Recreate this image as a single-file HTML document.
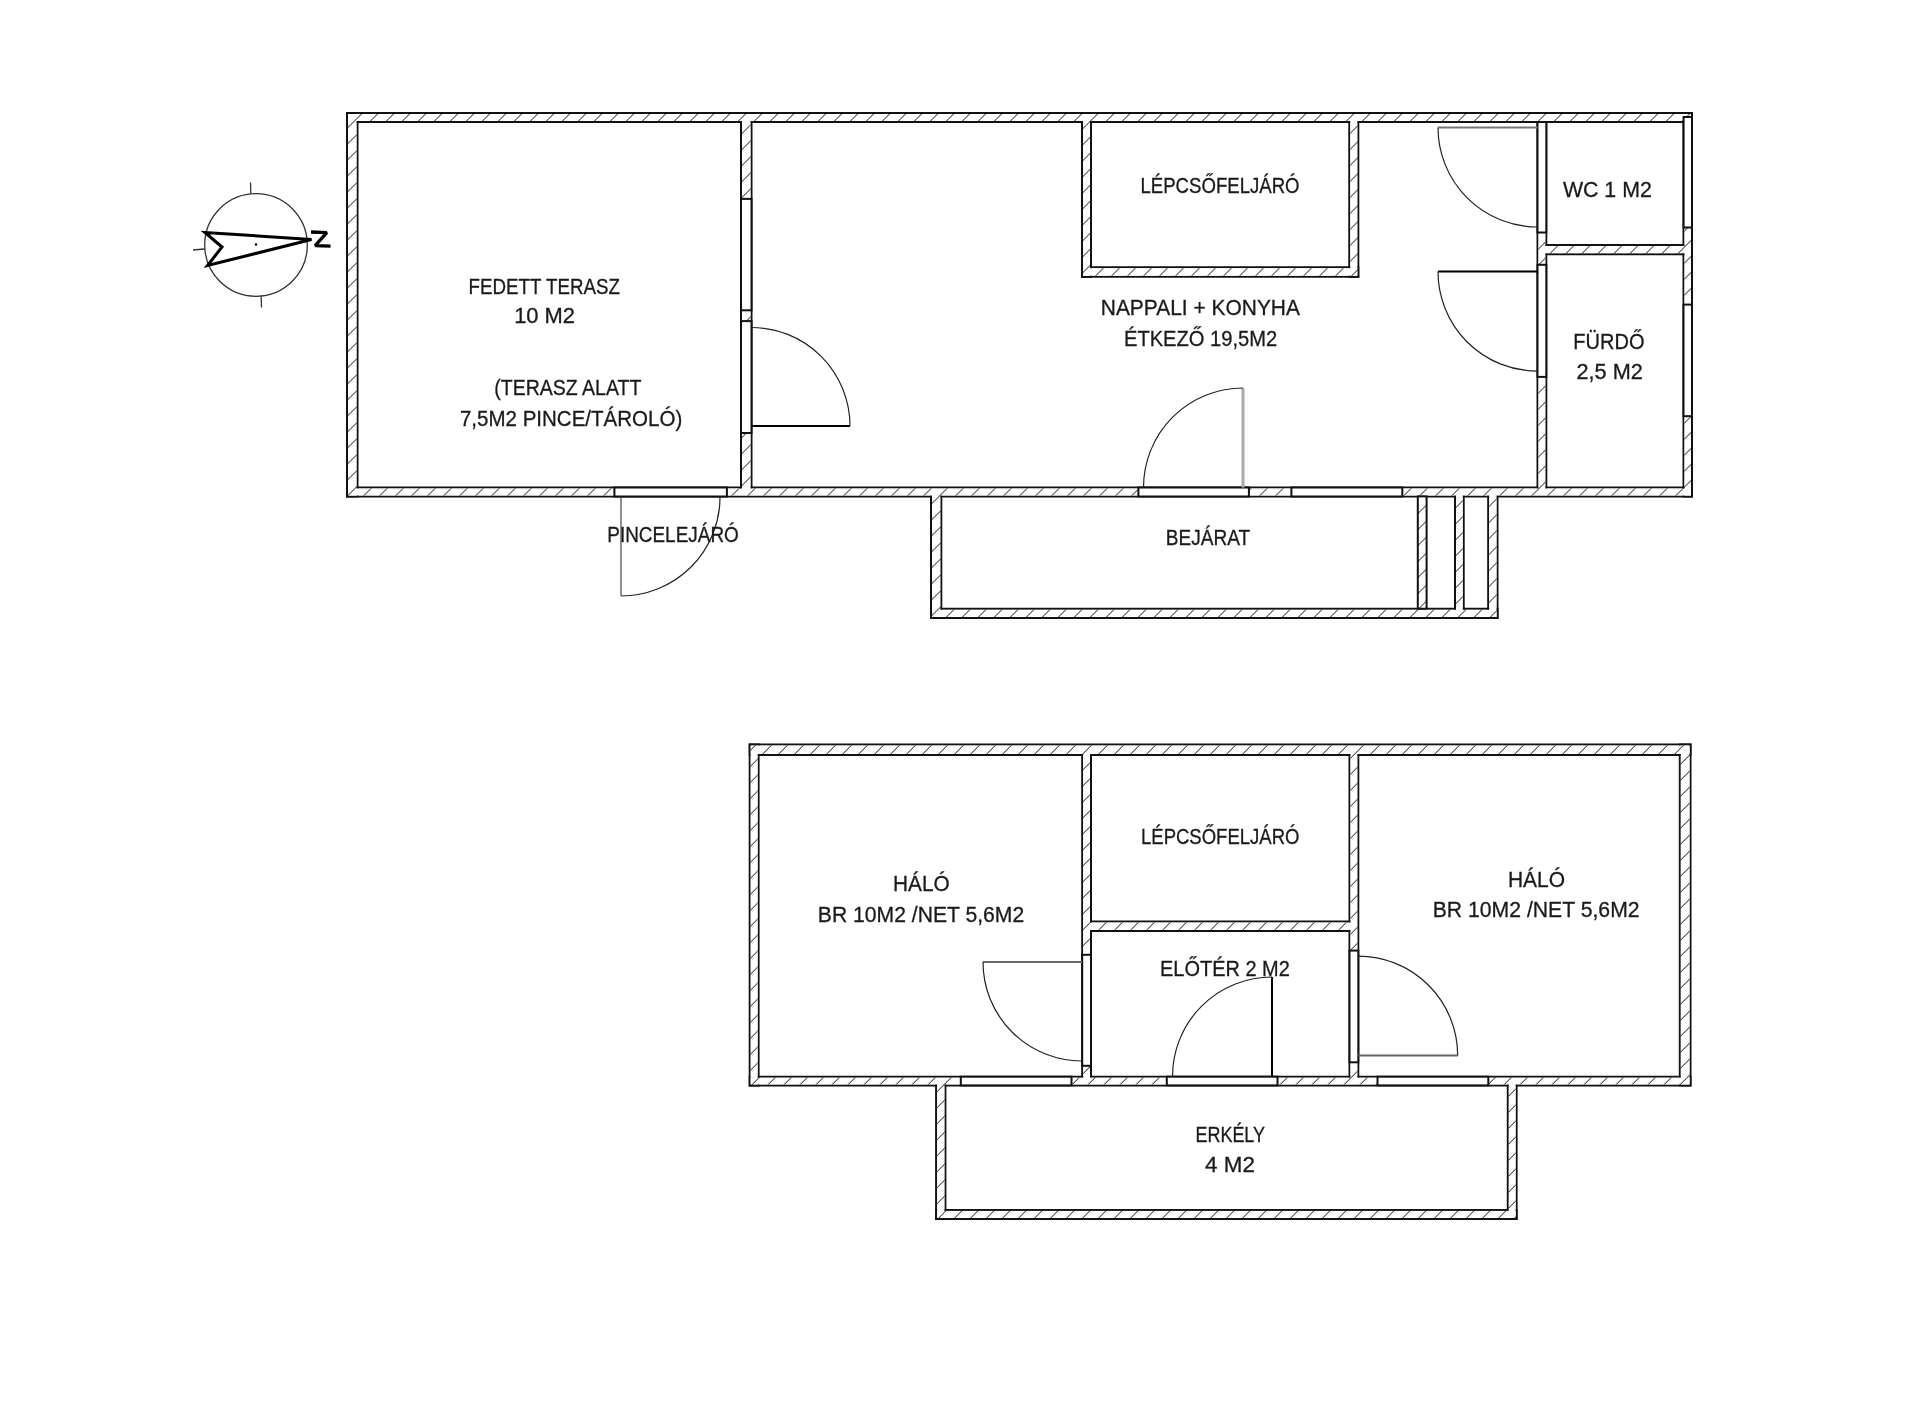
<!DOCTYPE html>
<html><head><meta charset="utf-8"><title>Floor plan</title>
<style>html,body{margin:0;padding:0;background:#fff;width:1920px;height:1401px;overflow:hidden}
svg{display:block;font-family:"Liberation Sans",sans-serif}</style>
</head><body>
<svg width="1920" height="1401" viewBox="0 0 1920 1401">
<defs>
<pattern id="h" patternUnits="userSpaceOnUse" width="16" height="16" patternTransform="translate(11.5,0)">
<rect width="16" height="16" fill="#fff"/>
<path d="M-4,4 L4,-4 M0,16 L16,0 M12,20 L20,12" stroke="#111" stroke-width="1.0"/>
</pattern>
<pattern id="h2" patternUnits="userSpaceOnUse" width="16" height="16" patternTransform="translate(12.7,0)">
<rect width="16" height="16" fill="#fff"/>
<path d="M-4,4 L4,-4 M0,16 L16,0 M12,20 L20,12" stroke="#111" stroke-width="1.0"/>
</pattern>
</defs>
<rect width="1920" height="1401" fill="#fff"/>
<g fill="none" stroke="#111" stroke-width="2.0" stroke-linejoin="miter" stroke-linecap="square">
<path d="M347,113H1692V122H347Z"/>
<path d="M347,113H357.5V496.5H347Z"/>
<path d="M347,487.5H1692V496.5H347Z"/>
<path d="M1683.5,113H1692V496.5H1683.5Z"/>
<path d="M741,117.5H751.5V492H741Z"/>
<path d="M1082,117.5H1091V276.7H1082Z"/>
<path d="M1349.3,117.5H1358.3V276.7H1349.3Z"/>
<path d="M1082,267.2H1358.3V276.7H1082Z"/>
<path d="M1537.5,117.5H1546.3V492H1537.5Z"/>
<path d="M1542,245H1688V254.2H1542Z"/>
<path d="M931,492H941.3V618H931Z"/>
<path d="M931,608.8H1497.5V618H931Z"/>
<path d="M1488.2,492H1497.5V618H1488.2Z"/>
<path d="M1455,492H1463.7V613.4H1455Z"/>
<path d="M749.7,744.6H1690.5V755H749.7Z"/>
<path d="M749.7,744.6H758.6V1085.4H749.7Z"/>
<path d="M749.7,1076.7H1690.5V1085.4H749.7Z"/>
<path d="M1679.8,744.6H1690.5V1085.4H1679.8Z"/>
<path d="M1082.2,750H1091V1081H1082.2Z"/>
<path d="M1349.5,750H1358.3V1081H1349.5Z"/>
<path d="M1086.6,921.6H1353.9V930.9H1086.6Z"/>
<path d="M936.1,1081H945.4V1219H936.1Z"/>
<path d="M936.1,1209.9H1516.6V1219H936.1Z"/>
<path d="M1507.8,1081H1516.6V1219H1507.8Z"/>
</g>
<g fill="url(#h)" stroke="none">
<rect x="348.0" y="114.0" width="1343.0" height="7.0" fill="url(#h)"/>
<rect x="348.0" y="114.0" width="8.5" height="381.5" fill="url(#h)"/>
<rect x="348.0" y="488.5" width="1343.0" height="7.0" fill="url(#h)"/>
<rect x="1684.5" y="114.0" width="6.5" height="381.5" fill="url(#h)"/>
<rect x="742.0" y="118.5" width="8.5" height="372.5" fill="url(#h)"/>
<rect x="1083.0" y="118.5" width="7.0" height="157.2" fill="url(#h)"/>
<rect x="1350.3" y="118.5" width="7.0" height="157.2" fill="url(#h)"/>
<rect x="1083.0" y="268.2" width="274.29999999999995" height="7.5" fill="url(#h)"/>
<rect x="1538.5" y="118.5" width="6.7999999999999545" height="372.5" fill="url(#h)"/>
<rect x="1543.0" y="246.0" width="144.0" height="7.199999999999989" fill="url(#h)"/>
<rect x="932.0" y="493.0" width="8.299999999999955" height="124.0" fill="url(#h)"/>
<rect x="932.0" y="609.8" width="564.5" height="7.2000000000000455" fill="url(#h)"/>
<rect x="1489.2" y="493.0" width="7.2999999999999545" height="124.0" fill="url(#h)"/>
<rect x="1456.0" y="493.0" width="6.7000000000000455" height="119.39999999999998" fill="url(#h)"/>
<rect x="750.7" y="745.6" width="938.8" height="8.399999999999977" fill="url(#h2)"/>
<rect x="750.7" y="745.6" width="6.899999999999977" height="338.80000000000007" fill="url(#h2)"/>
<rect x="750.7" y="1077.7" width="938.8" height="6.7000000000000455" fill="url(#h2)"/>
<rect x="1680.8" y="745.6" width="8.700000000000045" height="338.80000000000007" fill="url(#h2)"/>
<rect x="1083.2" y="751.0" width="6.7999999999999545" height="329.0" fill="url(#h2)"/>
<rect x="1350.5" y="751.0" width="6.7999999999999545" height="329.0" fill="url(#h2)"/>
<rect x="1087.6" y="922.6" width="265.3000000000002" height="7.2999999999999545" fill="url(#h2)"/>
<rect x="937.1" y="1082.0" width="7.2999999999999545" height="136.0" fill="url(#h2)"/>
<rect x="937.1" y="1210.9" width="578.4999999999999" height="7.099999999999909" fill="url(#h2)"/>
<rect x="1508.8" y="1082.0" width="6.7999999999999545" height="136.0" fill="url(#h2)"/>
</g>
<rect x="1417.8" y="496.4" width="8.799999999999955" height="112.30000000000007" fill="url(#h)" stroke="#111" stroke-width="2.0"/>
<g fill="#fff" stroke="#111" stroke-width="2.0">
<rect x="741" y="198.9" width="10.5" height="111.4"/>
<rect x="741" y="321.1" width="10.5" height="111.89999999999998"/>
<rect x="614.4" y="487.5" width="112.5" height="9.0"/>
<rect x="1138.4" y="487.5" width="110.5" height="9.0"/>
<rect x="1291.4" y="487.5" width="110.89999999999986" height="9.0"/>
<rect x="1537.5" y="122" width="8.799999999999955" height="110.5"/>
<rect x="1537.5" y="264.8" width="8.799999999999955" height="112.09999999999997"/>
<rect x="1683.6" y="117" width="8.400000000000091" height="110.5"/>
<rect x="1683.5" y="304.6" width="8.5" height="111.59999999999997"/>
<rect x="1082.2" y="954.8" width="8.799999999999955" height="111.0"/>
<rect x="1349.5" y="950.6" width="8.799999999999955" height="111.69999999999993"/>
<rect x="960.8" y="1076.7" width="110.70000000000005" height="8.700000000000045"/>
<rect x="1166.8" y="1076.7" width="110.70000000000005" height="8.700000000000045"/>
<rect x="1377.5" y="1076.7" width="110.79999999999995" height="8.700000000000045"/>
</g>
<g fill="none" stroke="#111">
<path d="M751.5,426 L850.0,426" stroke="#000" stroke-width="2"/>
<path d="M850.0,426 A98.5,98.5 0 0 0 751.5,327.5" stroke="#222" stroke-width="1.2"/>
<path d="M621,497 L621,596" stroke="#555" stroke-width="1.3"/>
<path d="M720,497 A99,99 0 0 1 621,596" stroke="#222" stroke-width="1.2"/>
<path d="M1243,487.5 L1243,388.0" stroke="#aaa" stroke-width="3"/>
<path d="M1143.5,487.5 A99.5,99.5 0 0 1 1243,388.0" stroke="#222" stroke-width="1.2"/>
<path d="M1537.5,127.5 L1438.0,127.5" stroke="#777" stroke-width="2"/>
<path d="M1438.0,127.5 A99.5,99.5 0 0 0 1537.5,227.0" stroke="#222" stroke-width="1.2"/>
<path d="M1537.5,271.6 L1438.0,271.6" stroke="#000" stroke-width="2"/>
<path d="M1438.0,271.6 A99.5,99.5 0 0 0 1537.5,371.1" stroke="#222" stroke-width="1.2"/>
<path d="M1082,962 L983,962" stroke="#666" stroke-width="2"/>
<path d="M983,962 A99,99 0 0 0 1082,1061" stroke="#222" stroke-width="1.2"/>
<path d="M1272,1076.5 L1272,977.0" stroke="#000" stroke-width="2"/>
<path d="M1172.5,1076.5 A99.5,99.5 0 0 1 1272,977.0" stroke="#222" stroke-width="1.2"/>
<path d="M1358.3,1055.5 L1457.7,1055.5" stroke="#666" stroke-width="2"/>
<path d="M1457.7,1055.5 A99.4,99.4 0 0 0 1358.3,956.1" stroke="#222" stroke-width="1.2"/>
</g>
<g fill="none" stroke="#333">
<circle cx="256" cy="245" r="51.3" stroke-width="1.3"/>
<path d="M250.5,182.5 L250.8,193.5 M261.2,296.5 L261.5,307.5 M193,250 L204.5,249" stroke-width="1.3"/>
</g>
<path d="M311.5,239.5 L205,232.5 L222,247 L207.5,265.5 Z" fill="none" stroke="#000" stroke-width="3" stroke-linejoin="miter"/>
<circle cx="256" cy="244.5" r="1.2" fill="#000"/>
<path d="M311,232 L326.8,232.6 L315.2,245.6 L330.5,246.1" fill="none" stroke="#000" stroke-width="3.3" stroke-linejoin="bevel"/>

<g font-family="Liberation Sans" font-size="22" fill="#1a1a1a" stroke="#1a1a1a" stroke-width="0.3" style="will-change:transform">
<text transform="translate(468.46,293.60) scale(0.8529,1)">FEDETT TERASZ</text>
<text transform="translate(514.13,323.40) scale(0.9972,1)">10 M2</text>
<text transform="translate(494.29,395.40) scale(0.8874,1)">(TERASZ ALATT</text>
<text transform="translate(459.95,425.50) scale(0.9326,1)">7,5M2 PINCE/TÁROLÓ)</text>
<text transform="translate(607.25,542.00) scale(0.8615,1)">PINCELEJÁRÓ</text>
<text transform="translate(1140.48,192.50) scale(0.8451,1)">LÉPCSŐFELJÁRÓ</text>
<text transform="translate(1100.78,315.00) scale(0.9521,1)">NAPPALI + KONYHA</text>
<text transform="translate(1123.95,345.60) scale(0.9155,1)">ÉTKEZŐ 19,5M2</text>
<text transform="translate(1562.89,196.70) scale(0.9706,1)">WC 1 M2</text>
<text transform="translate(1573.36,349.20) scale(0.9104,1)">FÜRDŐ</text>
<text transform="translate(1576.51,379.20) scale(0.9869,1)">2,5 M2</text>
<text transform="translate(1165.74,544.60) scale(0.8666,1)">BEJÁRAT</text>
<text transform="translate(1140.98,843.80) scale(0.8424,1)">LÉPCSŐFELJÁRÓ</text>
<text transform="translate(893.10,891.00) scale(0.9449,1)">HÁLÓ</text>
<text transform="translate(817.87,921.80) scale(0.9614,1)">BR 10M2 /NET 5,6M2</text>
<text transform="translate(1507.88,886.50) scale(0.9536,1)">HÁLÓ</text>
<text transform="translate(1432.66,917.00) scale(0.9642,1)">BR 10M2 /NET 5,6M2</text>
<text transform="translate(1160.06,975.50) scale(0.9077,1)">ELŐTÉR 2 M2</text>
<text transform="translate(1195.42,1142.20) scale(0.8179,1)">ERKÉLY</text>
<text transform="translate(1205.08,1172.20) scale(1.0180,1)">4 M2</text>
</g>
</svg>
</body></html>
